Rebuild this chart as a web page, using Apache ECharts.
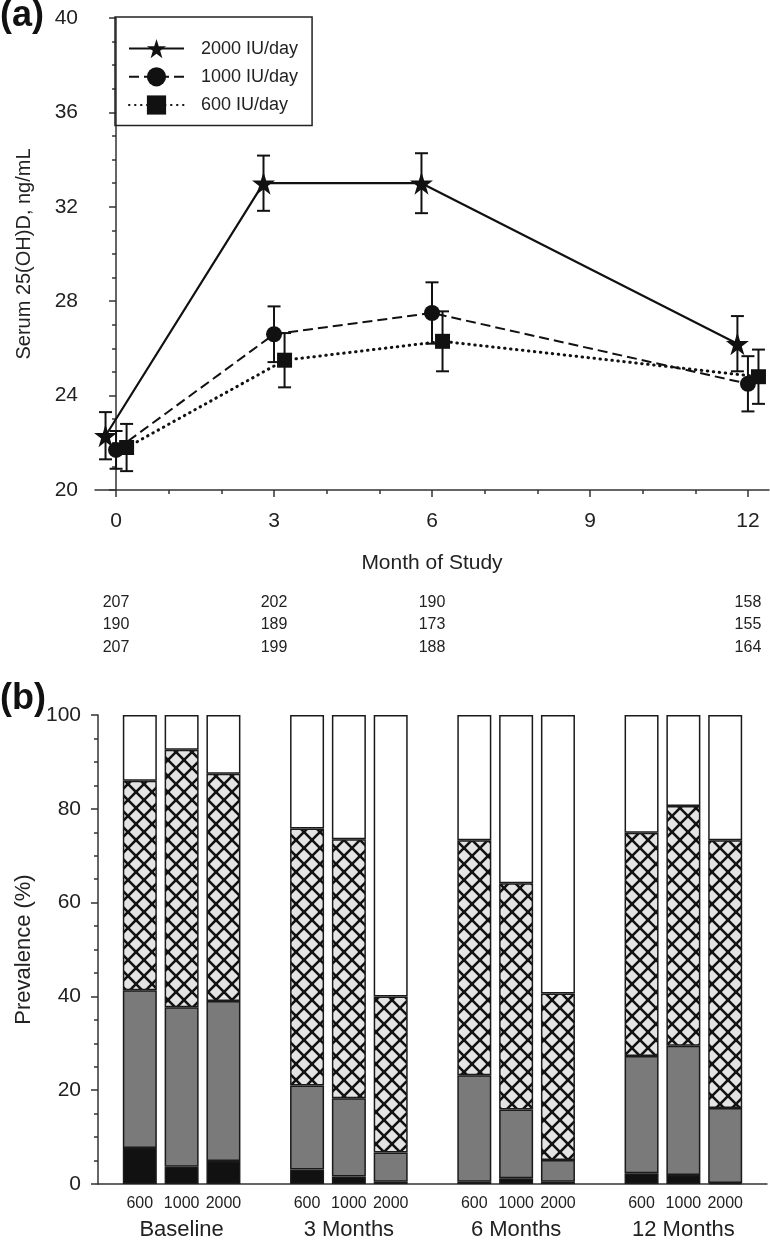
<!DOCTYPE html>
<html><head><meta charset="utf-8">
<script src="https://cdn.jsdelivr.net/npm/echarts@6/dist/echarts.min.js"></script>
<style>html,body{margin:0;padding:0;background:#fff}#c{width:770px;height:1241px}</style>
</head><body><div id="c"></div>
<script>
// ---------- Panel (a) data ----------
const MONTHS = [0, 3, 6, 12];
const X_TICKS = [0, 3, 6, 9, 12];
const X_MINOR_TICKS = [1, 2, 4, 5, 7, 8, 10, 11];
const SERIES_NAMES = ['2000 IU/day', '1000 IU/day', '600 IU/day'];
const MEAN_2000 = [22.3, 33.0, 33.0, 26.2];
const SE_2000   = [1.0, 1.17, 1.27, 1.17];
const MEAN_1000 = [21.7, 26.6, 27.5, 24.5];
const SE_1000   = [0.8, 1.18, 1.3, 1.17];
const MEAN_600  = [21.8, 25.5, 26.3, 24.8];
const SE_600    = [1.0, 1.15, 1.27, 1.15];
const N_2000 = [207, 202, 190, 158];
const N_1000 = [190, 189, 173, 155];
const N_600  = [207, 199, 188, 164];

// ---------- Panel (b) data ----------
const BAR_SLOTS = ['', '600', '1000', '2000', '', '600', '1000', '2000', '', '600', '1000', '2000', '', '600', '1000', '2000', ''];
const GROUP_SLOTS = ['', '', 'Baseline', '', '', '', '3 Months', '', '', '', '6 Months', '', '', '', '12 Months', '', ''];
const PREV_BLACK = [7.7, 3.7, 4.9, 3.1, 1.6, 0.5, 0.5, 1.2, 0.5, 2.3, 1.9, 0.2];
const PREV_GRAY  = [33.6, 34.0, 34.1, 17.9, 16.7, 6.2, 22.7, 14.7, 4.6, 25.0, 27.6, 16.0];
const PREV_HATCH = [44.7, 54.9, 48.5, 54.8, 55.2, 33.3, 50.1, 48.2, 35.5, 47.6, 51.1, 57.1];
const PREV_WHITE = [14.0, 7.4, 12.5, 24.2, 26.5, 60.0, 26.7, 35.9, 59.4, 25.1, 19.4, 26.7];

// ---------- styling ----------
const FONT = "'Liberation Sans', Arial, sans-serif";
const TXT = '#222';
const AX = '#333';
const DODGE = [-0.2, 0, 0.2];
const STAR = 'path://M50,0 L61.2,35.5 L98,35.5 L68.3,57.5 L79.4,93 L50,71 L20.6,93 L31.7,57.5 L2,35.5 L38.8,35.5 Z';

function hatchCanvas() {
  const s = 16;
  const c = document.createElement('canvas');
  c.width = s; c.height = s;
  const g = c.getContext('2d');
  g.fillStyle = '#e4e4e4'; g.fillRect(0, 0, s, s);
  g.strokeStyle = '#111'; g.lineWidth = 2.6;
  for (const d of [-s, 0, s]) {
    g.beginPath(); g.moveTo(d, 0); g.lineTo(d + s, s); g.stroke();
    g.beginPath(); g.moveTo(d + s, 0); g.lineTo(d, s); g.stroke();
  }
  return c;
}

const means = [MEAN_2000, MEAN_1000, MEAN_600];
const ses = [SE_2000, SE_1000, SE_600];
const symbols = [STAR, 'circle', 'rect'];
const symbolSizes = [23, 16, 15];
const lineTypes = ['solid', [10, 5], [0.5, 5.5]];
const lineCaps = ['butt', 'butt', 'round'];
const lineWidths = [2.2, 2, 3];

const series = [];
for (let k = 0; k < 3; k++) {
  series.push({
    name: SERIES_NAMES[k], type: 'line', xAxisIndex: 0, yAxisIndex: 0,
    data: MONTHS.map((m, i) => [m + DODGE[k], means[k][i]]),
    symbol: symbols[k], symbolSize: symbolSizes[k],
    itemStyle: { color: '#111' },
    lineStyle: { color: '#111', width: lineWidths[k], type: lineTypes[k], cap: lineCaps[k] },
    z: 3, silent: true
  });
}
for (let k = 0; k < 3; k++) {
  series.push({
    name: 'err' + k, type: 'custom', xAxisIndex: 0, yAxisIndex: 0,
    data: MONTHS.map((m, i) => [m + DODGE[k], means[k][i], means[k][i] - ses[k][i], means[k][i] + ses[k][i]]),
    encode: { x: 0, y: [2, 3] },
    renderItem: function (params, api) {
      const x = api.value(0);
      const top = api.coord([x, api.value(3)]);
      const bot = api.coord([x, api.value(2)]);
      const hw = 6.5;
      const st = { stroke: '#111', lineWidth: 2 };
      return { type: 'group', children: [
        { type: 'line', shape: { x1: top[0], y1: top[1], x2: bot[0], y2: bot[1] }, style: st },
        { type: 'line', shape: { x1: top[0] - hw, y1: top[1], x2: top[0] + hw, y2: top[1] }, style: st },
        { type: 'line', shape: { x1: bot[0] - hw, y1: bot[1], x2: bot[0] + hw, y2: bot[1] }, style: st }
      ]};
    },
    z: 2, silent: true
  });
}

function slotData(vals) {
  let k = 0;
  return BAR_SLOTS.map(s => s ? vals[k++] : null);
}
const barDefs = [
  ['<30', PREV_BLACK, '#111111'],
  ['30-50', PREV_GRAY, '#7a7a7a'],
  ['50-75', PREV_HATCH, { image: hatchCanvas(), repeat: 'repeat' }],
  ['>=75', PREV_WHITE, '#ffffff']
];
barDefs.forEach(([nm, vals, col]) => {
  series.push({
    name: nm, type: 'bar', stack: 'prev', xAxisIndex: 5, yAxisIndex: 1,
    data: slotData(vals), barWidth: 34,
    itemStyle: { color: col, borderColor: '#1a1a1a', borderWidth: 1.5 },
    silent: true
  });
});

function nAxis(arr, offset) {
  return {
    gridIndex: 0, type: 'value', min: -0.4, max: 12.4, position: 'bottom', offset: offset,
    axisLine: { show: false }, axisTick: { show: false }, splitLine: { show: false },
    axisLabel: { customValues: MONTHS, margin: 0, fontSize: 16, color: TXT, fontFamily: FONT,
      formatter: v => { const i = MONTHS.indexOf(Math.round(v)); return i >= 0 ? String(arr[i]) : ''; } }
  };
}

const option = {
  animation: false,
  backgroundColor: '#fff',
  textStyle: { fontFamily: FONT, color: TXT },
  title: [
    { text: '(a)', left: 0, top: -2, padding: 0, textStyle: { fontSize: 36, fontWeight: 'bold', color: '#111', fontFamily: FONT } },
    { text: '(b)', left: 0, top: 681, padding: 0, textStyle: { fontSize: 36, fontWeight: 'bold', color: '#111', fontFamily: FONT } }
  ],
  legend: {
    data: SERIES_NAMES, orient: 'vertical', left: 115, top: 17,
    padding: [22, 14, 11, 13], itemGap: 9, itemWidth: 55, itemHeight: 24,
    borderColor: '#222', borderWidth: 1.5,
    textStyle: { fontSize: 18, color: TXT, fontFamily: FONT, padding: [0, 0, 0, 12] },
    selectedMode: false
  },
  grid: [
    { left: 95, top: 18, width: 674, height: 472 },
    { left: 98, top: 715, width: 672, height: 471.5 }
  ],
  xAxis: [
    { gridIndex: 0, type: 'value', min: -0.4, max: 12.4,
      axisLine: { onZero: false, lineStyle: { color: AX, width: 1.5 } },
      splitLine: { show: false },
      axisTick: { customValues: X_TICKS, length: 7, lineStyle: { color: AX, width: 1.5 } },
      axisLabel: { customValues: X_TICKS, fontSize: 21, margin: 21, color: TXT, fontFamily: FONT },
      name: 'Month of Study', nameLocation: 'middle', nameGap: 63,
      nameTextStyle: { fontSize: 21, color: TXT, fontFamily: FONT } },
    { gridIndex: 0, type: 'value', min: -0.4, max: 12.4, position: 'bottom',
      axisLine: { show: false }, splitLine: { show: false },
      axisTick: { customValues: X_MINOR_TICKS, length: 4, lineStyle: { color: AX, width: 1.5 } },
      axisLabel: { show: false } },
    nAxis(N_2000, 105),
    nAxis(N_1000, 127),
    nAxis(N_600, 150),
    { gridIndex: 1, type: 'category', data: BAR_SLOTS, boundaryGap: false,
      axisLine: { onZero: false, lineStyle: { color: AX, width: 1.5 } },
      axisTick: { show: false }, splitLine: { show: false },
      axisLabel: { interval: 0, fontSize: 16, margin: 12, color: TXT, fontFamily: FONT } },
    { gridIndex: 1, type: 'category', data: GROUP_SLOTS, boundaryGap: false, position: 'bottom', offset: 35,
      axisLine: { show: false }, axisTick: { show: false }, splitLine: { show: false },
      axisLabel: { interval: 0, fontSize: 22, margin: 0, color: TXT, fontFamily: FONT } }
  ],
  yAxis: [
    { gridIndex: 0, type: 'value', min: 20, max: 40, interval: 4,
      axisLine: { show: true, lineStyle: { color: AX, width: 1.5 } },
      splitLine: { show: false },
      axisTick: { show: true, length: 7, lineStyle: { color: AX, width: 1.5 } },
      minorTick: { show: true, splitNumber: 4, length: 4, lineStyle: { color: AX, width: 1.5 } },
      axisLabel: { fontSize: 21, margin: 17, color: TXT, fontFamily: FONT },
      name: 'Serum 25(OH)D, ng/mL', nameLocation: 'middle', nameGap: 61,
      nameTextStyle: { fontSize: 20, color: TXT, fontFamily: FONT } },
    { gridIndex: 1, type: 'value', min: 0, max: 100, interval: 20,
      axisLine: { show: true, lineStyle: { color: AX, width: 1.5 } },
      splitLine: { show: false },
      axisTick: { show: true, length: 7, lineStyle: { color: AX, width: 1.5 } },
      minorTick: { show: true, splitNumber: 4, length: 4, lineStyle: { color: AX, width: 1.5 } },
      axisLabel: { fontSize: 21, margin: 17, color: TXT, fontFamily: FONT },
      name: 'Prevalence (%)', nameLocation: 'middle', nameGap: 62,
      nameTextStyle: { fontSize: 22, color: TXT, fontFamily: FONT } }
  ],
  series: series
};
const chart = echarts.init(document.getElementById('c'), null, { renderer: 'canvas' });
chart.setOption(option);
</script>
</body></html>
